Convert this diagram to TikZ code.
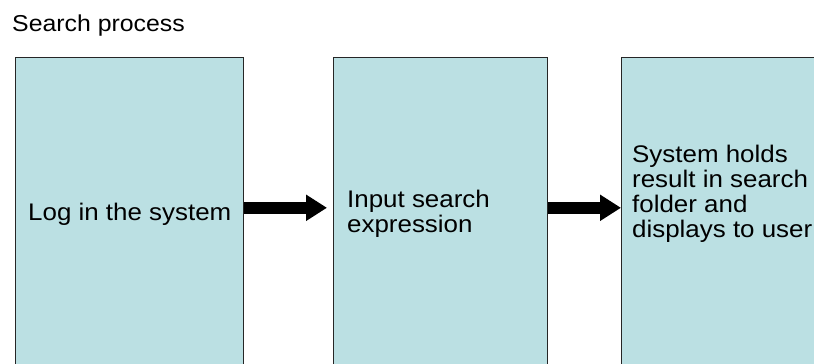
\documentclass[tikz,border=0pt]{standalone}
\usepackage{fontspec}
\setmainfont{Liberation Sans}[FakeStretch=1.08]
\usetikzlibrary{arrows.meta}
\definecolor{boxfill}{HTML}{BBE0E3}
\tikzset{
  box/.style={draw=black!85, line width=0.8pt, fill=boxfill, anchor=north west, inner sep=0pt},
  boxtext/.style={anchor=base west, inner sep=0pt, align=left, font=\fontsize{24}{25}\selectfont},
  titletext/.style={anchor=base west, inner sep=0pt, font=\fontsize{23}{25}\selectfont},
  blockarrow/.style={draw=black, line width=11.5pt, -{Triangle[length=21pt,width=25pt]}}
}
\begin{document}
\begin{tikzpicture}[x=1pt,y=-1pt]
\useasboundingbox (0,0) rectangle (814,364);
\fill[white] (0,0) rectangle (814,364);
\clip (0,0) rectangle (814,364);
\node[titletext] (title) at (12,31) {Search process};
\node[box, minimum width=228, minimum height=350] (b1) at (15,57) {};
\node[box, minimum width=214, minimum height=350] (b2) at (333,57) {};
\node[box, minimum width=260, minimum height=350] (b3) at (621,57) {};
\node[boxtext] (t1) at (28,220) {Log in the system};
\node[boxtext] (t2) at (347,232) {Input search\\expression};
\node[boxtext] (t3) at (632,237) {System holds\\result in search\\folder and\\displays to user};
\coordinate (ay) at (0,207.8);
\draw[blockarrow] (b1.east |- ay) -- ([xshift=-6pt]b2.west |- ay);
\draw[blockarrow] (b2.east |- ay) -- (b3.west |- ay);
\end{tikzpicture}
\end{document}
